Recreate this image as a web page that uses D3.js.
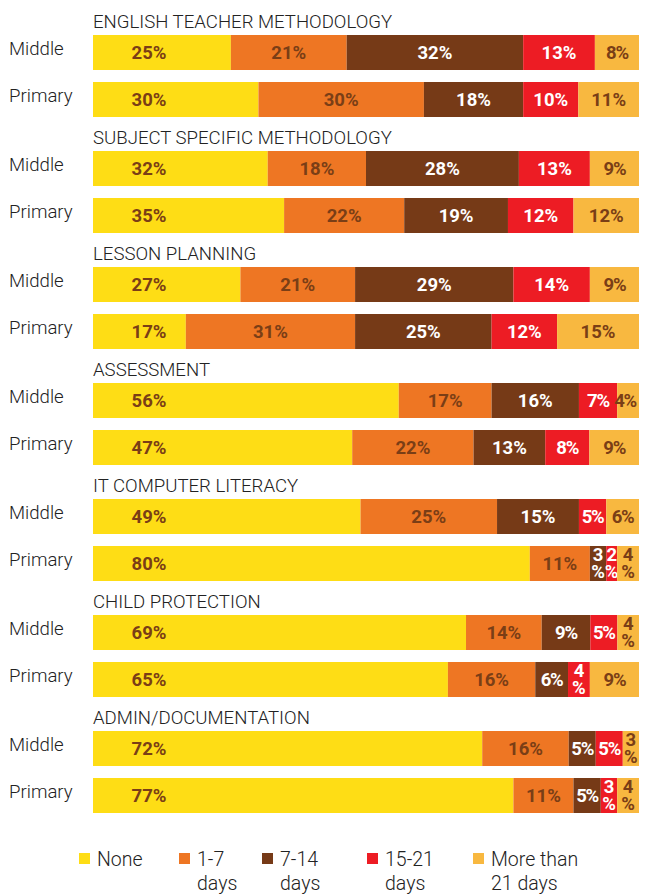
<!DOCTYPE html>
<html>
<head>
<meta charset="utf-8">
<script src="https://cdn.jsdelivr.net/npm/d3@7"></script>
<style>
  body { margin: 0; background: #fff; }
  text { font-family: Roboto, "Open Sans", sans-serif; }
</style>
</head>
<body>
<svg id="chart" width="650" height="896"></svg>
<script>
// - - - - - - - - - - data
const groups = ['ENGLISH TEACHER METHODOLOGY', 'SUBJECT SPECIFIC METHODOLOGY', 'LESSON PLANNING',
    'ASSESSMENT', 'IT COMPUTER LITERACY', 'CHILD PROTECTION', 'ADMIN/DOCUMENTATION'];
const levels = ['Middle', 'Primary'];
const series = ['None', '1-7 days', '7-14 days', '15-21 days', 'More than 21 days'];

const middle = [
    [25, 21, 32, 13, 8],
    [32, 18, 28, 13, 9],
    [27, 21, 29, 14, 9],
    [56, 17, 16, 7, 4],
    [49, 25, 15, 5, 6],
    [69, 14, 9, 5, 4],
    [72, 16, 5, 5, 3]
];
const primary = [
    [30, 30, 18, 10, 11],
    [35, 22, 19, 12, 12],
    [17, 31, 25, 12, 15],
    [47, 22, 13, 8, 9],
    [80, 11, 3, 2, 4],
    [65, 16, 6, 4, 9],
    [77, 11, 5, 3, 4]
];

const colors = ['#fedd15', '#ee7623', '#763a17', '#ed1c24', '#f8b840'];
const labelColors = ['#7a3e16', '#7a3e16', '#ffffff', '#ffffff', '#7a3e16'];
// small values that still sit on one line
const oneLine = ['3-0-4'];

// - - - - - - - - - - layout
const svg = d3.select('#chart');
const x0 = 93, x1 = 639, barH = 35;

const yGroup = d3.scaleLinear().domain([0, 6]).range([35, 731]);

groups.forEach((g, gi) => {
    const gy = yGroup(gi);

    svg.append('text')
        .attr('x', 93).attr('y', gy - 7)
        .attr('font-size', 18.6).attr('font-weight', 300)
        .attr('fill', '#222')
        .text(g);

    [middle[gi], primary[gi]].forEach((vals, li) => {
        const y = gy + li * 47;
        const total = d3.sum(vals);
        const x = d3.scaleLinear().domain([0, total]).range([x0, x1]);
        const starts = d3.cumsum([0].concat(vals));

        svg.append('text')
            .attr('x', 9).attr('y', y + barH / 2 + 2)
            .attr('font-size', 18.6).attr('font-weight', 300)
            .attr('fill', '#222')
            .text(levels[li]);

        vals.forEach((v, si) => {
            const a = x(starts[si]), b = x(starts[si] + v);
            svg.append('rect')
                .attr('x', a).attr('y', y)
                .attr('width', b - a).attr('height', barH)
                .attr('fill', colors[si]);

            const cx = si === 0 ? x0 + 56 : (a + b) / 2;
            const t = svg.append('text')
                .attr('text-anchor', 'middle')
                .attr('font-size', 18.5).attr('font-weight', 700)
                .attr('fill', labelColors[si]);

            if (v < 5 && !oneLine.includes(gi + '-' + li + '-' + v)) {
                t.append('tspan').attr('x', cx).attr('y', y + 15).text(v);
                t.append('tspan').attr('x', cx).attr('y', y + 32).text('%');
            } else {
                t.attr('x', v < 5 ? cx - 3 : cx).attr('y', y + barH / 2 + 6)
                    .attr('letter-spacing', v < 10 && si > 1 ? -1.2 : 0)
                    .text(v + '%');
            }
        });
    });
});

// - - - - - - - - - - legend
const legendX = [79, 179, 262, 367, 473];
const legendLines = [['None'], ['1-7', 'days'], ['7-14', 'days'], ['15-21', 'days'], ['More than', '21 days']];

series.forEach((s, i) => {
    svg.append('rect')
        .attr('x', legendX[i]).attr('y', 853)
        .attr('width', 11).attr('height', 11)
        .attr('fill', colors[i]);
    const t = svg.append('text')
        .attr('font-size', 19.5).attr('font-weight', 300)
        .attr('fill', '#222');
    legendLines[i].forEach((line, k) => {
        t.append('tspan')
            .attr('x', legendX[i] + 18).attr('y', 866 + k * 24)
            .text(line);
    });
});
</script>
</body>
</html>
